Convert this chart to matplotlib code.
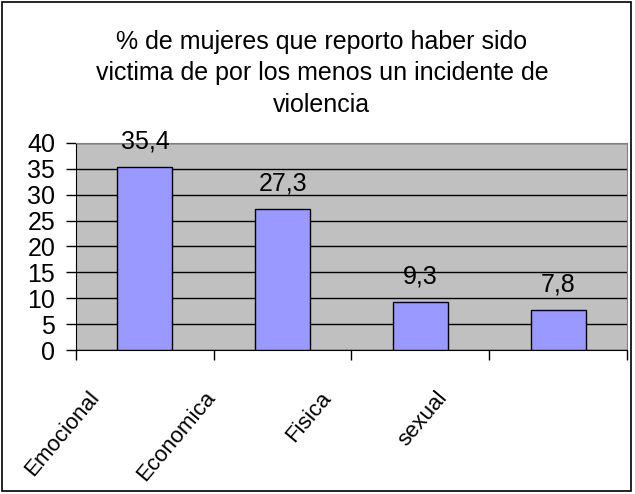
import matplotlib.pyplot as plt
from matplotlib.patches import Rectangle
from matplotlib.transforms import ScaledTranslation

categories = ['Emocional', 'Economica', 'Fisica', 'sexual']
values = [35.4, 27.3, 9.3, 7.8]
value_labels = ['35,4', '27,3', '9,3', '7,8']
title = ('% de mujeres que reporto haber sido\n'
         'victima de por los menos un incidente de\n'
         'violencia')

plt.rcParams['font.family'] = ['Liberation Sans', 'DejaVu Sans']

fig = plt.figure(figsize=(6.35, 4.94), dpi=100)
ax = fig.add_axes([76 / 635, 144 / 494, 551 / 635, 207 / 494])

# outer frame
fig.patches.append(Rectangle((2 / 635, 3 / 494), 629 / 635, 489 / 494,
                             transform=fig.transFigure, fill=False,
                             edgecolor='black', linewidth=1.2))

ax.set_facecolor('#C0C0C0')
x = list(range(len(categories)))
bars = ax.bar(x, values, width=0.4, color='#9999FF', edgecolor='black',
              linewidth=1, zorder=3)

for xi, v, lab in zip(x, values, value_labels):
    ax.annotate(lab, (xi, v), xytext=(0, 18), textcoords='offset points',
                ha='center', va='center', fontsize=18, zorder=4)

ax.set_ylim(0, 40)
ax.set_yticks(range(0, 41, 5))
ax.yaxis.grid(True, color='black', linewidth=1)
ax.set_axisbelow(True)
ax.set_xlim(-0.5, len(categories) - 0.5)

# category boundary ticks
ax.set_xticks([i - 0.5 for i in range(len(categories) + 1)])
ax.set_xticklabels([])
ax.set_xticks(x, minor=True)
ax.set_xticklabels(categories, minor=True, rotation=50, ha='right',
                   va='top', rotation_mode='anchor', fontsize=16,
                   family=['Liberation Sans Narrow', 'Liberation Sans'])
ax.tick_params(axis='x', which='minor', length=0, pad=27)
ax.tick_params(axis='x', which='major', length=7, width=1, direction='out')
ax.tick_params(axis='y', length=7, width=1, direction='out', labelsize=18,
               pad=8)
for i, lbl in enumerate(ax.get_xticklabels(minor=True)):
    shift = ScaledTranslation(-(57 + 22 * i) / 100, 0, fig.dpi_scale_trans)
    lbl.set_transform(lbl.get_transform() + shift)

for side in ['top', 'right']:
    ax.spines[side].set_color('#808080')
for side in ['left', 'bottom']:
    ax.spines[side].set_color('black')

fig.text(0.507, 0.852, title, ha='center', va='center', fontsize=18,
         linespacing=1.4)

fig.savefig('out.png', dpi=100)
